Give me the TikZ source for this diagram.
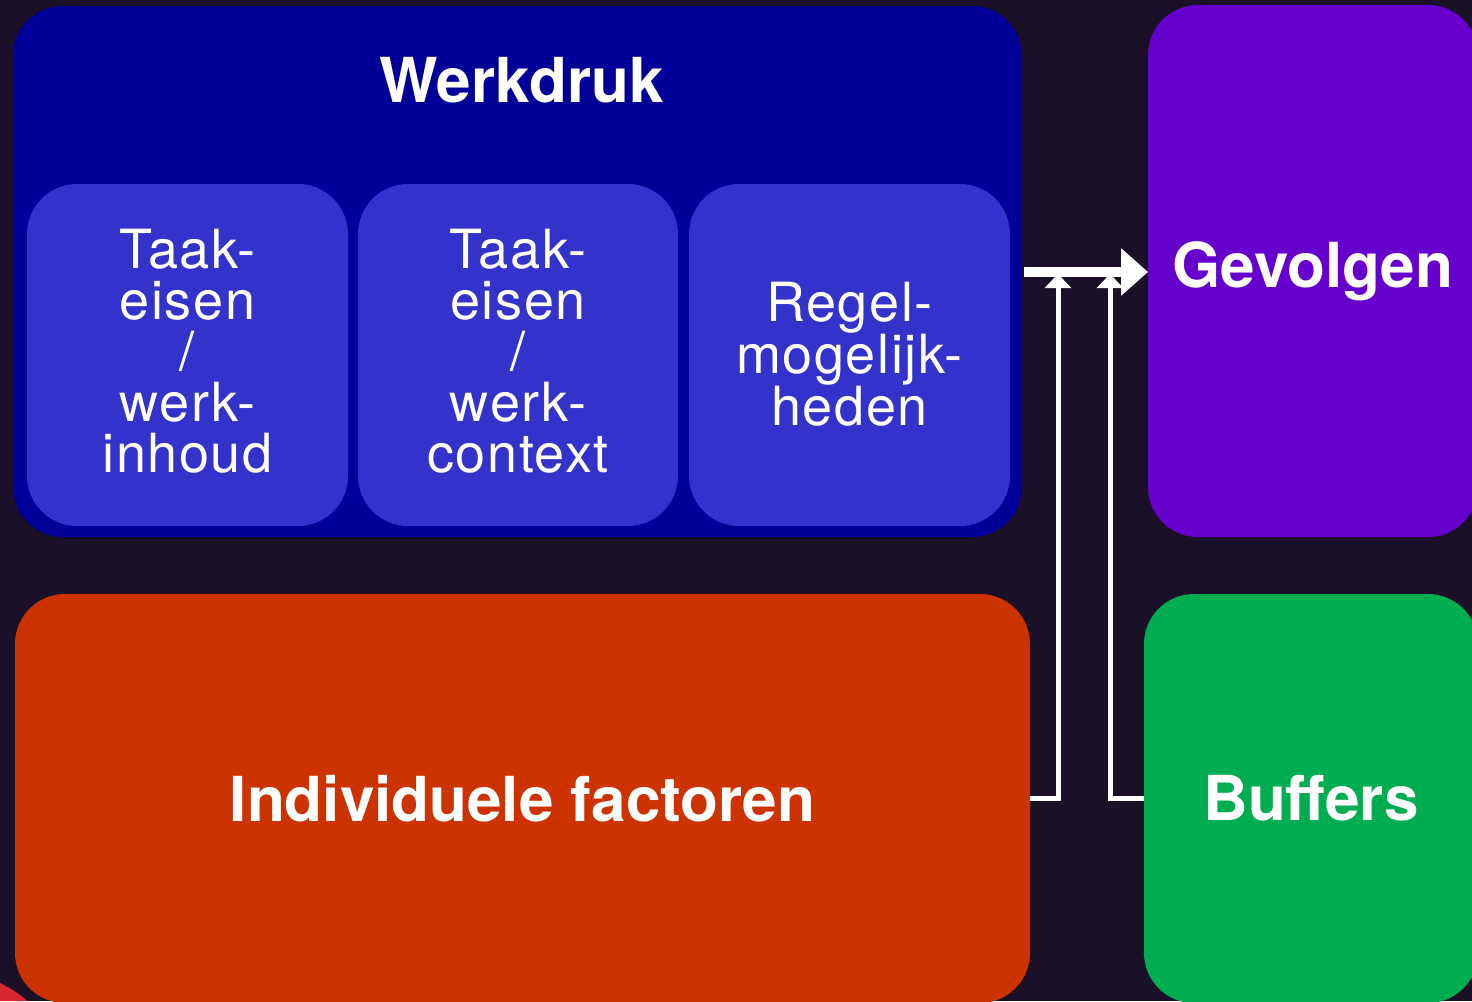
\documentclass[tikz,border=0pt]{standalone}
\usepackage{fontspec}
\setmainfont{TeX Gyre Heros}
\newfontfamily\spacedfont[LetterSpace=3]{TeX Gyre Heros}
\usetikzlibrary{arrows.meta}
\definecolor{bg}{HTML}{1A1129}
\definecolor{wdark}{HTML}{000099}
\definecolor{winner}{HTML}{3333CC}
\definecolor{gev}{HTML}{6600CC}
\definecolor{ind}{HTML}{CC3300}
\definecolor{buf}{HTML}{00AD50}
\definecolor{corner}{HTML}{D8282F}
\tikzset{
  box/.style={rounded corners=50pt, inner sep=0pt, outer sep=0pt, text=white, align=center},
  regtext/.style={font=\spacedfont\fontsize{54}{51}\selectfont, text=white, align=center, inner sep=0pt},
  boldtext/.style={font=\fontsize{62}{62}\selectfont\bfseries},
  varrow/.style={draw=white, line width=5pt, -{Triangle[length=14pt,width=26pt]}},
  marrow/.style={draw=white, line width=10pt, -{Triangle[length=27pt,width=46pt]}}
}
\begin{document}
\begin{tikzpicture}[x=1pt,y=-1pt]
\useasboundingbox (0,0) rectangle (1472,1001);
\clip (0,0) rectangle (1472,1001);
\fill[bg] (0,0) rectangle (1472,1001);
\fill[corner] (0,983) .. controls (10,988) and (20,994) .. (27,1001) -- (0,1001) -- cycle;
% Werkdruk
\node[box, fill=wdark, minimum width=1009pt, minimum height=531pt] (werk) at (517.5,271.5) {};
\node[boldtext, text=white, anchor=base, inner sep=0pt] (werktitle) at (522,102) {Werkdruk};
\node[box, fill=winner, minimum width=321pt, minimum height=342pt] (taak1box) at (187.5,355) {};
\node[box, fill=winner, minimum width=320pt, minimum height=342pt] (taak2box) at (518,355) {};
\node[box, fill=winner, minimum width=321pt, minimum height=342pt] (regelbox) at (849.5,355) {};
\node[regtext] (taak1) at (187.5,351) {Taak-\\eisen\\/\\werk-\\inhoud};
\node[regtext] (taak2) at (518,351) {Taak-\\eisen\\/\\werk-\\context};
\node[regtext] (regel) at (849.5,354) {Regel-\\mogelijk-\\heden};
% Gevolgen
\node[box, fill=gev, boldtext, minimum width=330pt, minimum height=532pt] (gevolgen) at (1313,271) {Gevolgen};
% Individuele factoren
\node[box, fill=ind, boldtext, minimum width=1015pt, minimum height=409pt] (indiv) at (522.5,798.5) {Individuele factoren};
% Buffers
\node[box, fill=buf, boldtext, minimum width=334pt, minimum height=409pt] (buffers) at (1311,798.5) {Buffers};
% connectors
\coordinate (j1) at (1058,274);
\coordinate (j2) at (1110,274);
\coordinate (ms) at (1024,272);
\coordinate (me) at (1148,272);
\draw[varrow] (indiv.east) -| (j1);
\draw[varrow] (buffers.west) -| (j2);
\draw[marrow] (ms) -- (me);
\end{tikzpicture}
\end{document}
